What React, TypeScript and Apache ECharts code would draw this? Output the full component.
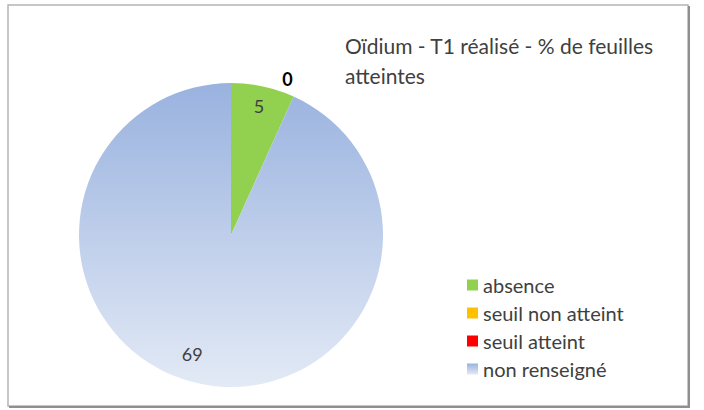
import React, { useEffect, useRef } from "react";
import * as echarts from "echarts";

const categories = ["absence", "seuil non atteint", "seuil atteint", "non renseigné"];
const values = [5, 0, 0, 69];
const colors = ["#92d050", "#ffc000", "#ff0000", "#b3c6ea"];
const titleText = "Oïdium - T1 réalisé - % de feuilles\natteintes";

export default function App() {
  const ref = useRef<HTMLDivElement>(null);
  useEffect(() => {
    if (!ref.current) return;
    const chart = echarts.init(ref.current, null, { renderer: "svg" });
    const blueGrad = new echarts.graphic.LinearGradient(0, 0, 0, 1, [
      { offset: 0, color: "#99b2df" },
      { offset: 1, color: "#e3eaf6" },
    ]);
    const font = "Lato, 'Open Sans', sans-serif";
    const txt = "#404040";
    const center = [231, 235];
    const R = 152;
    const mainData = categories.map((name, i) => ({
      name,
      value: values[i],
      itemStyle: { color: i === 3 ? blueGrad : colors[i] },
    }));
    const labelPads: number[][] = [
      [0, 0, 0, 0],
      [0, 0, 0, 4],
      [0, 0, 0, 4],
      [0, 22, 0, 0],
    ];
    const labelFormats = ["{c}", "{c}\n\n\n\n", "{c}\n\n\n\n", "{c}\n"];
    const labelLH = [18, 18, 18, 20];
    const labelData = categories.map((name, i) => ({
      name,
      value: values[i],
      label: {
        padding: labelPads[i],
        formatter: labelFormats[i],
        lineHeight: labelLH[i],
        fontWeight: values[i] === 0 ? "bold" : "normal",
        color: values[i] === 0 ? "#000000" : txt,
      },
    }));
    chart.setOption({
      animation: false,
      backgroundColor: "#ffffff",
      title: {
        text: titleText,
        left: 340,
        top: 25,
        textStyle: { fontFamily: font, fontSize: 21, fontWeight: "normal", color: txt, lineHeight: 30 },
      },
      legend: {
        orient: "vertical",
        left: 462,
        top: 270,
        itemWidth: 11,
        itemHeight: 11,
        itemGap: 8,
        icon: "rect",
        data: categories,
        textStyle: { fontFamily: font, fontSize: 20, color: txt, lineHeight: 20 },
        selectedMode: false,
      },
      series: [
        {
          type: "pie",
          center,
          radius: R,
          startAngle: 90,
          clockwise: true,
          avoidLabelOverlap: false,
          silent: true,
          label: { show: false },
          labelLine: { show: false },
          data: mainData,
        },
        {
          type: "pie",
          center,
          radius: [R * 0.7, R],
          startAngle: 90,
          clockwise: true,
          avoidLabelOverlap: false,
          silent: true,
          itemStyle: { color: "rgba(0,0,0,0)" },
          label: {
            show: true,
            position: "inside",
            formatter: "{c}",
            fontFamily: font,
            fontSize: 18,
            color: txt,
          },
          labelLine: { show: false },
          data: labelData,
        },
      ],
      graphic: [
        {
          type: "rect",
          shape: { x: 8, y: 5, width: 680, height: 401 },
          style: { fill: "none", stroke: "#b4b4b4", lineWidth: 1.5 },
          silent: true,
        },
        {
          type: "line",
          shape: { x1: 689, y1: 6, x2: 689, y2: 408 },
          style: { stroke: "#8f8f8f", lineWidth: 2 },
          silent: true,
        },
        {
          type: "line",
          shape: { x1: 9, y1: 407, x2: 690, y2: 407 },
          style: { stroke: "#8f8f8f", lineWidth: 2 },
          silent: true,
        },
      ],
    });
    return () => chart.dispose();
  }, []);
  return (
    <div
      ref={ref}
      style={{ position: "fixed", left: 0, top: 0, width: 704, height: 410, background: "#ffffff" }}
    />
  );
}
